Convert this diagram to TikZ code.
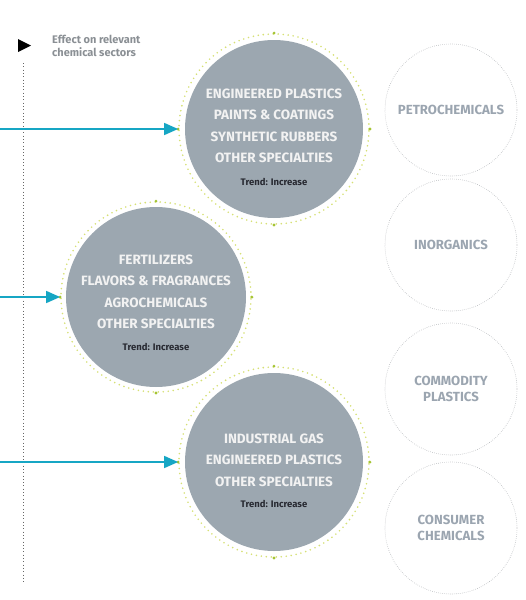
\documentclass[tikz,border=0pt]{standalone}
\usepackage{fontspec}
\setmainfont{Fira Sans}
\usepackage{xcolor}
\usepackage{tikz}
\usetikzlibrary{arrows.meta}

\definecolor{feedteal}{RGB}{22,166,196}
\definecolor{diskgrey}{RGB}{156,167,176}
\definecolor{dotyellow}{RGB}{214,224,118}
\definecolor{dotgreen}{RGB}{165,196,52}
\definecolor{ringgrey}{RGB}{176,179,183}
\definecolor{sectortext}{RGB}{155,165,176}
\definecolor{headtext}{RGB}{138,143,148}
\definecolor{trendtext}{RGB}{40,42,50}

\begin{document}
\begin{tikzpicture}[x=1pt,y=-1pt,
		disk/.style={circle,fill=diskgrey,minimum size=178pt,inner sep=0pt},
		ring/.style={circle,draw=dotyellow,line width=1.8pt,dash pattern=on 0pt off 5pt,line cap=round,minimum size=190pt,inner sep=0pt},
		sector/.style={circle,draw=ringgrey,line width=0.6pt,dash pattern=on 0.6pt off 1.4pt,minimum size=132pt,inner sep=0pt,align=center,text=sectortext,font=\bfseries\fontsize{13.2}{16}\selectfont},
		list/.style={inner sep=0pt,anchor=north,align=center,text=white!95!black,font=\bfseries\fontsize{13.5}{21.5}\selectfont},
		trend/.style={inner sep=0pt,anchor=base,text=trendtext,font=\bfseries\fontsize{9.5}{11}\selectfont},
		feed/.style={draw=feedteal,line width=1.6pt,-{Triangle[length=14pt,width=12pt]}},
		axis/.style={draw=black!60,line width=0.9pt,dash pattern=on 0.9pt off 2.4pt}]
	\useasboundingbox (0,0) rectangle (526,600);
	
	% header
	\fill[] (18,39) -- (31,45.5) -- (18,52) -- cycle;
	\node[anchor=north west,inner sep=0pt,align=left,text=headtext,font=\bfseries\fontsize{11}{13}\selectfont] (effect) at (52,35) {Effect on relevant\\chemical sectors};
	\coordinate (axtop) at (23,63);
	\coordinate (axbot) at (23,582);
	\draw[axis] (axtop) -- (axbot);
	
	% sectors
	\node[sector] (petro) at (451,110) {PETROCHEMICALS};
	\node[sector] (inorg) at (451,245) {INORGANICS};
	\node[sector] (commod) at (451,389) {COMMODITY\\PLASTICS};
	\node[sector] (consum) at (451,528) {CONSUMER\\CHEMICALS};
	
	% effect circles
	\node[ring] (ring1) at (274,129) {};
	\node[disk] (disk1) at (274,129) {};
	\node[list] (list1) at (274,88.7) {ENGINEERED PLASTICS\\PAINTS \& COATINGS\\SYNTHETIC RUBBERS\\OTHER SPECIALTIES};
	\node[trend] (trend1) at (274,185) {Trend: Increase};
	
	\node[ring] (ring2) at (156,297) {};
	\node[disk,minimum size=180pt] (disk2) at (156,297) {};
	\node[list] (list2) at (156,254.7) {FERTILIZERS\\FLAVORS \& FRAGRANCES\\AGROCHEMICALS\\OTHER SPECIALTIES};
	\node[trend] (trend2) at (156,350) {Trend: Increase};
	
	\node[ring] (ring3) at (274,462) {};
	\node[disk] (disk3) at (274,462) {};
	\node[list] (list3) at (274,433.7) {INDUSTRIAL GAS\\ENGINEERED PLASTICS\\OTHER SPECIALTIES};
	\node[trend] (trend3) at (274,507) {Trend: Increase};
	
	\foreach \r in {ring1,ring2,ring3}
		\foreach \a in {north,south,east,west}
			\fill[dotgreen] (\r.\a) circle (1.6pt);
	
	% arrows
	\coordinate (src1) at (0,129);
	\coordinate (src2) at (0,297);
	\coordinate (src3) at (0,462);
	\draw[feed] (src1) -- (ring1.west);
	\draw[feed] (src2) -- (ring2.west);
	\draw[feed] (src3) -- (ring3.west);
\end{tikzpicture}
\end{document}
